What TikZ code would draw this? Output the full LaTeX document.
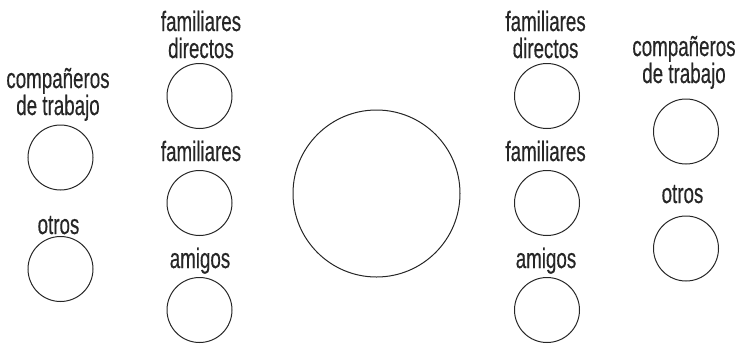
\documentclass[tikz,border=0pt]{standalone}
\usepackage{fontspec}
\setmainfont{Liberation Sans}[FakeStretch=0.67,FakeBold=0.4]
\begin{document}
\begin{tikzpicture}[x=1pt,y=-1pt,
  ring/.style={circle,draw=black!85,line width=1pt,inner sep=0pt,minimum size=65pt},
  lbl/.style={anchor=base,align=center,inner sep=0pt,text=black!85,font=\fontsize{28}{27}\selectfont}]
\useasboundingbox (0,0) rectangle (736,346);
% circles
\node[ring] (lc) at (60.5,157.5) {};
\node[ring] (lo) at (60.5,269) {};
\node[ring] (mfd) at (199.5,96) {};
\node[ring] (mf) at (199.5,203) {};
\node[ring] (ma) at (199.5,310) {};
\node[ring,minimum size=167pt] (big) at (376.5,193.5) {};
\node[ring] (rfd) at (547,96) {};
\node[ring] (rf) at (547,203) {};
\node[ring] (ra) at (547,310) {};
\node[ring] (rc) at (686,131.5) {};
\node[ring] (ro) at (686,248.5) {};
% labels (anchor = baseline of last line)
\node[lbl] (tlc) at (58,115) {compañeros\\de trabajo};
\node[lbl] (tlo) at (58.5,234) {otros};
\node[lbl] (tmfd) at (201,58) {familiares\\directos};
\node[lbl] (tmf) at (201,161) {familiares};
\node[lbl] (tma) at (200,268) {amigos};
\node[lbl] (trfd) at (545.6,58) {familiares\\directos};
\node[lbl] (trf) at (545.6,161) {familiares};
\node[lbl] (tra) at (546,268) {amigos};
\node[lbl] (trc) at (684,83) {compañeros\\de trabajo};
\node[lbl] (tro) at (682.5,203) {otros};
\end{tikzpicture}
\end{document}
